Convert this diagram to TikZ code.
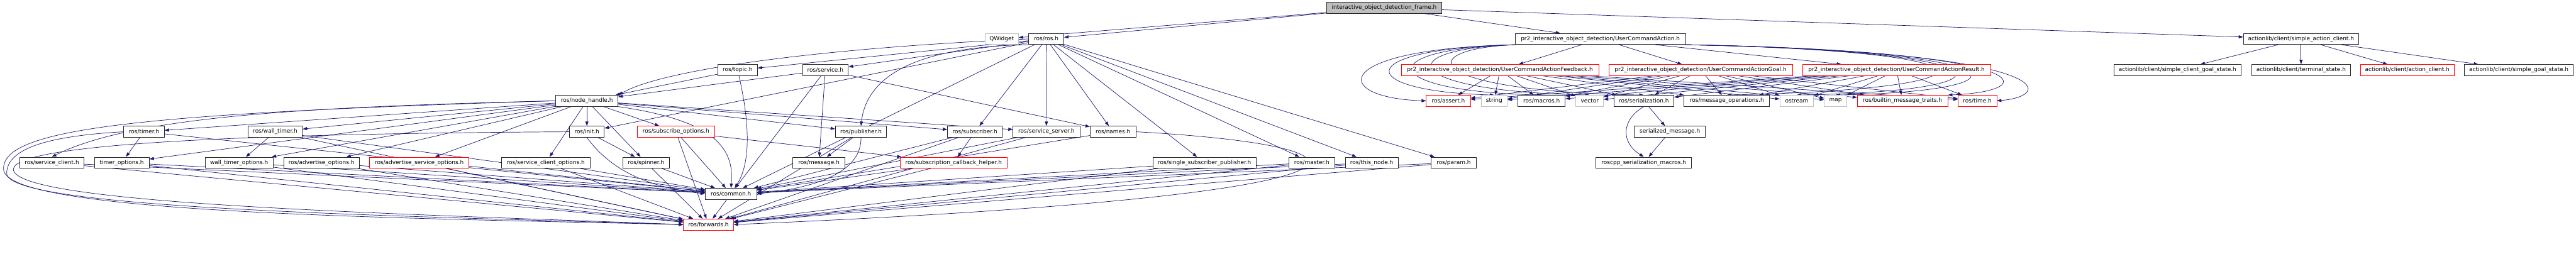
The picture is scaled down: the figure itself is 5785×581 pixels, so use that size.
\documentclass[tikz,border=0pt]{standalone}
\usepackage{xcolor}
\usepackage{fontspec}
\setmainfont{DejaVu Sans}
\usepackage{tikz}
\usetikzlibrary{arrows.meta,backgrounds}

\definecolor{edgeblue}{HTML}{191970}
\definecolor{boxgray}{HTML}{BFBFBF}

\tikzset{
  hdr/.style={draw=black!85, fill=white, line width=0.8pt, minimum height=18.75pt,
    inner sep=0pt, font=\fontsize{9.5}{11}\selectfont, text=black},
  hdrred/.style={hdr, draw=red},
  hdrsys/.style={hdr, draw=boxgray},
  boxw/.style={minimum width=#1*0.75pt},
  incl/.style={draw=edgeblue, line width=0.75pt, -{Triangle[length=7.5pt,width=5.25pt]}},
}

\begin{document}
\begin{tikzpicture}[x=0.75pt,y=0.75pt,yscale=-1,xscale=1]
\useasboundingbox (0,0) rectangle (5785,581);

% row 0
\node[hdr, fill=boxgray, boxw=259] (root) at (3108.5,17.5) {interactive\_object\_detection\_frame.h};

% row 1
\node[hdrsys, boxw=75] (qwidget) at (2249.5,87.5) {QWidget};
\node[hdr, boxw=79] (ros) at (2349.5,87.5) {ros/ros.h};
\node[hdr, boxw=382] (uca) at (3594,87.5) {pr2\_interactive\_object\_detection/UserCommandAction.h};
\node[hdr, boxw=259] (sac) at (5167.5,87.5) {actionlib/client/simple\_action\_client.h};

% row 2
\node[hdr, boxw=89] (topic) at (1656.5,157.5) {ros/topic.h};
\node[hdr, boxw=103] (service) at (1853.5,157.5) {ros/service.h};
\node[hdrred, boxw=443] (ucaf) at (3368.5,157.5) {pr2\_interactive\_object\_detection/UserCommandActionFeedback.h};
\node[hdrred, boxw=412] (ucag) at (3819,157.5) {pr2\_interactive\_object\_detection/UserCommandActionGoal.h};
\node[hdrred, boxw=422] (ucar) at (4259,157.5) {pr2\_interactive\_object\_detection/UserCommandActionResult.h};
\node[hdr, boxw=286] (scgs) at (4890,157.5) {actionlib/client/simple\_client\_goal\_state.h};
\node[hdr, boxw=223] (term) at (5167.5,157.5) {actionlib/client/terminal\_state.h};
\node[hdrred, boxw=210] (ac) at (5406,157.5) {actionlib/client/action\_client.h};
\node[hdr, boxw=245] (sgs) at (5656.5,157.5) {actionlib/client/simple\_goal\_state.h};

% row 3
\node[hdr, boxw=140] (nh) at (1318,226.5) {ros/node\_handle.h};
\node[hdrred, boxw=99] (assert) at (3252.5,226.5) {ros/assert.h};
\node[hdrsys, boxw=59] (string) at (3355.5,226.5) {string};
\node[hdr, boxw=106] (macros) at (3462,226.5) {ros/macros.h};
\node[hdrsys, boxw=62] (vector) at (3570,226.5) {vector};
\node[hdr, boxw=135] (ser) at (3691.5,226.5) {ros/serialization.h};
\node[hdr, boxw=192] (msgops) at (3878,226.5) {ros/message\_operations.h};
\node[hdrsys, boxw=76] (ostream) at (4035,226.5) {ostream};
\node[hdrsys, boxw=50] (map) at (4122,226.5) {map};
\node[hdrred, boxw=203] (bmt) at (4272.5,226.5) {ros/builtin\_message\_traits.h};
\node[hdrred, boxw=87] (time) at (4440.5,226.5) {ros/time.h};

% row 4
\node[hdr, boxw=91] (timer) at (323.5,296) {ros/timer.h};
\node[hdr, boxw=122] (walltimer) at (618,296) {ros/wall\_timer.h};
\node[hdr, boxw=78] (init) at (1318,296) {ros/init.h};
\node[hdrred, boxw=174] (subopts) at (1518,296) {ros/subscribe\_options.h};
\node[hdr, boxw=115] (publisher) at (1933.5,296) {ros/publisher.h};
\node[hdr, boxw=123] (subscriber) at (2189.5,296) {ros/subscriber.h};
\node[hdr, boxw=150] (srvserver) at (2350,296) {ros/service\_server.h};
\node[hdr, boxw=103] (names) at (2499.5,296) {ros/names.h};
\node[hdr, boxw=160] (sermsg) at (3750,296) {serialized\_message.h};

% row 5
\node[hdr, boxw=145] (srvclient) at (116.5,365.5) {ros/service\_client.h};
\node[hdr, boxw=123] (timeropts) at (273.5,365.5) {timer\_options.h};
\node[hdr, boxw=152] (walltimeropts) at (537,365.5) {wall\_timer\_options.h};
\node[hdr, boxw=170] (advopts) at (722,365.5) {ros/advertise\_options.h};
\node[hdrred, boxw=223] (advsrvopts) at (941.5,365.5) {ros/advertise\_service\_options.h};
\node[hdr, boxw=199] (srvclientopts) at (1225.5,365.5) {ros/service\_client\_options.h};
\node[hdr, boxw=104] (spinner) at (1451,365.5) {ros/spinner.h};
\node[hdr, boxw=118] (message) at (1839,365.5) {ros/message.h};
\node[hdrred, boxw=239] (subcb) at (2141.5,365.5) {ros/subscription\_callback\_helper.h};
\node[hdr, boxw=232] (ssp) at (2705,365.5) {ros/single\_subscriber\_publisher.h};
\node[hdr, boxw=102] (master) at (2946,365.5) {ros/master.h};
\node[hdr, boxw=119] (thisnode) at (3080.5,365.5) {ros/this\_node.h};
\node[hdr, boxw=101] (param) at (3264.5,365.5) {ros/param.h};
\node[hdr, boxw=215] (rsm) at (3691.5,365.5) {roscpp\_serialization\_macros.h};

% row 6 and 7
\node[hdr, boxw=115] (common) at (1641.5,435.5) {ros/common.h};
\node[hdrred, boxw=112] (forwards) at (1591,504.5) {ros/forwards.h};

\begin{scope}[on background layer]
% frame header
\draw[incl] (root) -- (qwidget);
\draw[incl] (root) -- (ros);
\draw[incl] (root) -- (uca);
\draw[incl] (root) -- (sac);

% ros/ros.h
\draw[incl] (ros.west) .. controls (1900,105) and (1500,150) .. (nh.north east);
\draw[incl] (ros) -- (topic);
\draw[incl] (ros) -- (service);
\draw[incl] (ros) -- (init);
\draw[incl] (ros.south west) .. controls (2040,105) and (1945,180) .. (publisher.north);
\draw[incl] (ros) -- (subscriber);
\draw[incl] (ros) -- (srvserver);
\draw[incl] (ros) -- (names);
\draw[incl] (ros) -- (ssp);
\draw[incl] (ros) -- (master);
\draw[incl] (ros) -- (thisnode);
\draw[incl] (ros) -- (param);
\draw[incl] (ros) -- (common);

% topic and service
\draw[incl] (topic) -- (nh);
\draw[incl] (topic) .. controls (1680,260) and (1690,360) .. (common);
\draw[incl] (service) -- (nh);
\draw[incl] (service) -- (common);
\draw[incl] (service) -- (message);
\draw[incl] (service) -- (names);

% node_handle
\draw[incl] (nh) -- (timer);
\draw[incl] (nh) -- (walltimer);
\draw[incl] (nh.west) .. controls (700,240) and (300,260) .. (srvclient.north);
\draw[incl] (nh) -- (timeropts);
\draw[incl] (nh) -- (walltimeropts);
\draw[incl] (nh) -- (advopts);
\draw[incl] (nh) -- (advsrvopts);
\draw[incl] (nh) -- (srvclientopts);
\draw[incl] (nh) -- (init);
\draw[incl] (nh) -- (spinner);
\draw[incl] (nh) -- (subopts);
\draw[incl] (nh) -- (publisher);
\draw[incl] (nh) -- (subscriber);
\draw[incl] (nh) -- (srvserver);
\draw[incl] (nh.south east) .. controls (1600,270) and (1650,330) .. (common.north);
\draw[incl] (nh.west) .. controls (300,255) and (5,290) .. (8,380) .. controls (10,480) and (900,490) .. (forwards.west);

% left group
\draw[incl] (timer) -- (timeropts);
\draw[incl] (timer) -- (common);
\draw[incl] (timer.west) .. controls (120,305) and (15,330) .. (15,390) .. controls (20,470) and (900,485) .. (forwards.west);
\draw[incl] (walltimer) -- (walltimeropts);
\draw[incl] (walltimer) -- (common);
\draw[incl] (walltimer) -- (forwards);
\draw[incl] (srvclient) -- (common);
\draw[incl] (srvclient) -- (forwards);
\draw[incl] (timeropts) -- (common);
\draw[incl] (timeropts) -- (forwards);
\draw[incl] (walltimeropts) -- (common);
\draw[incl] (walltimeropts) -- (forwards);
\draw[incl] (advopts) -- (common);
\draw[incl] (advopts) -- (forwards);
\draw[incl] (advsrvopts) -- (common);
\draw[incl] (advsrvopts) -- (forwards);
\draw[incl] (srvclientopts) -- (common);
\draw[incl] (srvclientopts) -- (forwards);
\draw[incl] (spinner) -- (common);
\draw[incl] (spinner) -- (forwards);
\draw[incl] (init) -- (spinner);
\draw[incl] (init.south) .. controls (1370,380) and (1450,420) .. (common.west);
\draw[incl] (init.west) .. controls (600,300) and (35,320) .. (30,380) .. controls (30,460) and (900,480) .. (forwards.west);
\draw[incl] (subopts) -- (common);
\draw[incl] (subopts) -- (forwards);
\draw[incl] (subopts) -- (subcb);

% right group
\draw[incl] (publisher) -- (message);
\draw[incl] (publisher.south) .. controls (1935,380) and (1850,420) .. (common.east);
\draw[incl] (publisher) -- (forwards);
\draw[incl] (subscriber) -- (subcb);
\draw[incl] (subscriber) -- (common);
\draw[incl] (subscriber) -- (forwards);
\draw[incl] (srvserver) -- (common);
\draw[incl] (srvserver) -- (forwards);
\draw[incl] (names) -- (common);
\draw[incl] (names.east) .. controls (3160,330) and (3180,440) .. (forwards.east);
\draw[incl] (subcb) -- (common);
\draw[incl] (subcb) -- (forwards);
\draw[incl] (ssp) -- (common);
\draw[incl] (ssp) -- (forwards);
\draw[incl] (master) -- (common);
\draw[incl] (master) -- (forwards);
\draw[incl] (thisnode) -- (common);
\draw[incl] (thisnode) -- (forwards);
\draw[incl] (param) -- (common);
\draw[incl] (param) -- (forwards);
\draw[incl] (common) -- (forwards);

% UserCommandAction
\draw[incl] (uca) -- (ucaf);
\draw[incl] (uca) -- (ucag);
\draw[incl] (uca) -- (ucar);
\draw[incl] (uca.south west) .. controls (2980,110) and (2990,220) .. (assert.west);
\draw[incl] (uca.south west) .. controls (3030,110) and (3040,205) .. (string.north);
\draw[incl] (uca.south west) .. controls (3080,110) and (3090,205) .. (macros.north);
\draw[incl] (uca.south west) .. controls (3120,110) and (3140,205) .. (vector.north);
\draw[incl] (uca.south west) .. controls (3170,110) and (3190,205) .. (ser.north);
\draw[incl] (uca.south east) .. controls (4520,115) and (4520,200) .. (msgops.north);
\draw[incl] (uca.south east) .. controls (4545,115) and (4545,205) .. (ostream.north);
\draw[incl] (uca.south east) .. controls (4570,115) and (4570,205) .. (map.north);
\draw[incl] (uca.south east) .. controls (4590,115) and (4590,205) .. (bmt.north east);
\draw[incl] (uca.south east) .. controls (4620,115) and (4620,215) .. (time.east);

% message headers
\draw[incl] (ucaf) -- (assert); \draw[incl] (ucaf) -- (string); \draw[incl] (ucaf) -- (macros);
\draw[incl] (ucaf) -- (vector); \draw[incl] (ucaf) -- (ser); \draw[incl] (ucaf) -- (msgops);
\draw[incl] (ucaf) -- (ostream); \draw[incl] (ucaf) -- (map); \draw[incl] (ucaf) -- (bmt);
\draw[incl] (ucaf) -- (time);
\draw[incl] (ucag) -- (assert); \draw[incl] (ucag) -- (string); \draw[incl] (ucag) -- (macros);
\draw[incl] (ucag) -- (vector); \draw[incl] (ucag) -- (ser); \draw[incl] (ucag) -- (msgops);
\draw[incl] (ucag) -- (ostream); \draw[incl] (ucag) -- (map); \draw[incl] (ucag) -- (bmt);
\draw[incl] (ucag) -- (time);
\draw[incl] (ucar) -- (assert); \draw[incl] (ucar) -- (string); \draw[incl] (ucar) -- (macros);
\draw[incl] (ucar) -- (vector); \draw[incl] (ucar) -- (ser); \draw[incl] (ucar) -- (msgops);
\draw[incl] (ucar) -- (ostream); \draw[incl] (ucar) -- (map); \draw[incl] (ucar) -- (bmt);
\draw[incl] (ucar) -- (time);

% serialization
\draw[incl] (ser) -- (sermsg);
\draw[incl] (ser.south) .. controls (3640,270) and (3640,320) .. (rsm.north);
\draw[incl] (sermsg) -- (rsm);

% actionlib
\draw[incl] (sac) -- (scgs);
\draw[incl] (sac) -- (term);
\draw[incl] (sac) -- (ac);
\draw[incl] (sac) -- (sgs);
\end{scope}

\end{tikzpicture}
\end{document}
